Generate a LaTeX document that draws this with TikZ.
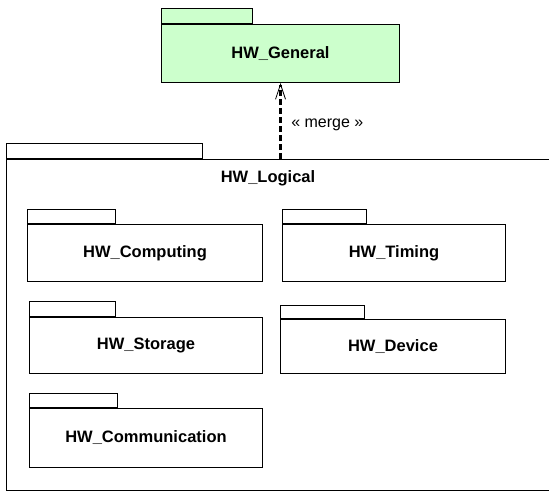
\documentclass[tikz,border=0pt]{standalone}
\usepackage{fontspec}
\setmainfont{Liberation Sans}
\usetikzlibrary{arrows.meta,positioning}
\definecolor{pkggreen}{HTML}{CCFFCC}
\tikzset{pkg/.style={draw=black,fill=white,line width=1pt,anchor=north west,inner sep=0pt,
 font=\fontsize{16.5}{19}\selectfont\bfseries,align=center},
 tab/.style={draw=black,fill=white,line width=1pt,anchor=south west,inner sep=0pt,minimum height=15pt},
 merge/.style={line width=3pt,dash pattern=on 6pt off 3pt,
 -{Straight Barb[length=15pt,width=10pt,line width=0.8pt 0]}}}

\begin{document}
\begin{tikzpicture}[x=1pt,y=-1pt]
\useasboundingbox (0,0) rectangle (549,491);
\clip (0,0) rectangle (549,491);
% outer package
\node[pkg,minimum width=560pt,minimum height=331pt] (logical) at (6,159) {};
\node[tab,minimum width=196pt] (logicaltab) at (logical.north west) {};
\node[font=\fontsize{16.5}{19}\selectfont\bfseries] (logicallabel) at (268,178) {HW\_Logical};
% merged package
\node[pkg,fill=pkggreen,minimum width=238pt,minimum height=58pt] (general) at (161,24) {HW\_General};
\node[tab,fill=pkggreen,minimum width=91pt] (generaltab) at (general.north west) {};
% inner packages
\node[pkg,minimum width=235pt,minimum height=57pt] (computing) at (27,224) {HW\_Computing};
\node[tab,minimum width=88pt,minimum height=14pt] (computingtab) at (computing.north west) {};
\node[pkg,minimum width=223pt,minimum height=57pt] (timing) at (282,224) {HW\_Timing};
\node[tab,minimum width=84pt,minimum height=14pt] (timingtab) at (timing.north west) {};
\node[pkg,minimum width=233pt,minimum height=56pt] (storage) at (29,317) {HW\_Storage};
\node[tab,minimum width=86pt] (storagetab) at (storage.north west) {};
\node[pkg,minimum width=225pt,minimum height=54pt] (device) at (280,319) {HW\_Device};
\node[tab,minimum width=84pt,minimum height=13pt] (devicetab) at (device.north west) {};
\node[pkg,minimum width=233pt,minimum height=59pt] (communication) at (29,408) {HW\_Communication};
\node[tab,minimum width=88pt,minimum height=14pt] (communicationtab) at (communication.north west) {};

\draw[merge] (logical.north -| general.south) -- node[pos=.45,right=6pt,font=\fontsize{16}{19}\selectfont]{« merge »} (general.south);
\end{tikzpicture}
\end{document}
